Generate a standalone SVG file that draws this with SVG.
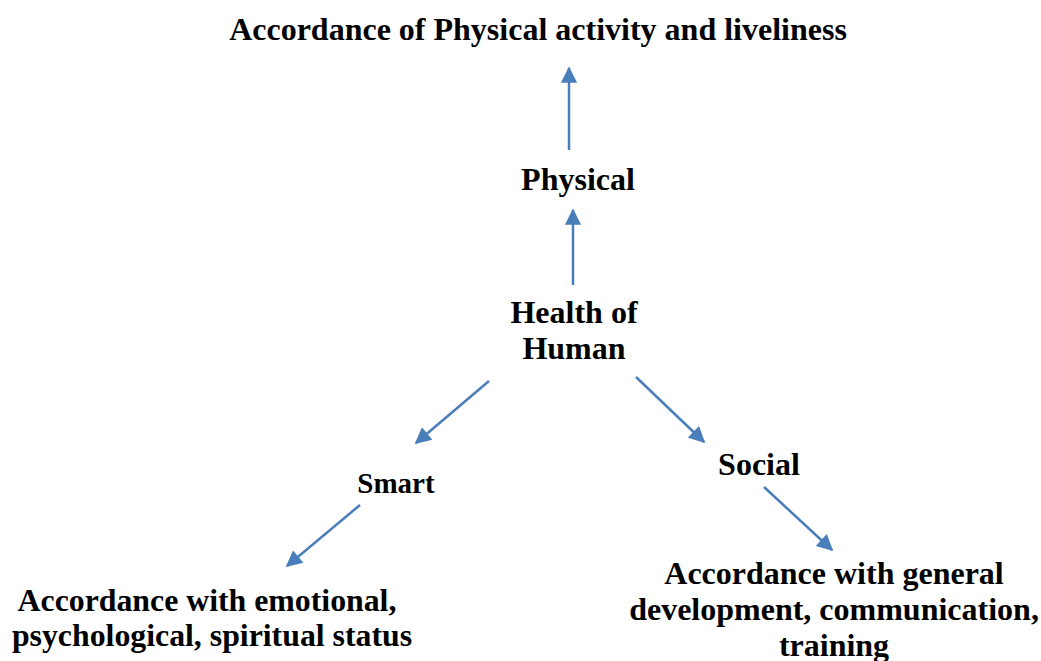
<svg xmlns="http://www.w3.org/2000/svg" width="1041" height="661" viewBox="0 0 1041 661">
<style>
text{font-family:"Liberation Serif","Times New Roman",serif;font-weight:bold;fill:#000;text-anchor:middle;font-size:32px}
.c line{stroke:#4A7EBB;stroke-width:2.5;fill:none;marker-end:url(#ah)}
</style>
<defs>
<marker id="ah" viewBox="0 0 10 10" refX="9" refY="5" markerWidth="7" markerHeight="6.5" markerUnits="strokeWidth" orient="auto">
<path d="M0,0 L10,5 L0,10 Z" fill="#4A7EBB"/>
</marker>
</defs>
<rect width="1041" height="661" fill="#fff"/>
<g id="title"><text x="538" y="40">Accordance of Physical activity and liveliness</text></g>
<g id="physical"><text x="578" y="190">Physical</text></g>
<g id="health"><text x="574" y="323">Health of</text><text x="574" y="359">Human</text></g>
<g id="smart"><text x="396" y="493" style="font-size:29px">Smart</text></g>
<g id="social"><text x="759" y="475">Social</text></g>
<g id="emotional"><text x="207" y="611" style="font-size:31.8px">Accordance with emotional,</text><text x="212" y="646" style="font-size:31.8px">psychological, spiritual status</text></g>
<g id="general"><text x="834" y="584">Accordance with general</text><text x="834" y="620">development, communication,</text><text x="834" y="656">training</text></g>
<g class="c" id="connectors">
<line x1="569" y1="150" x2="569" y2="68"/>
<line x1="573" y1="285" x2="573" y2="210"/>
<line x1="489" y1="381" x2="416" y2="443"/>
<line x1="636" y1="377" x2="704" y2="442"/>
<line x1="360" y1="505" x2="287" y2="566"/>
<line x1="764" y1="487" x2="832" y2="550"/>
</g>
</svg>
